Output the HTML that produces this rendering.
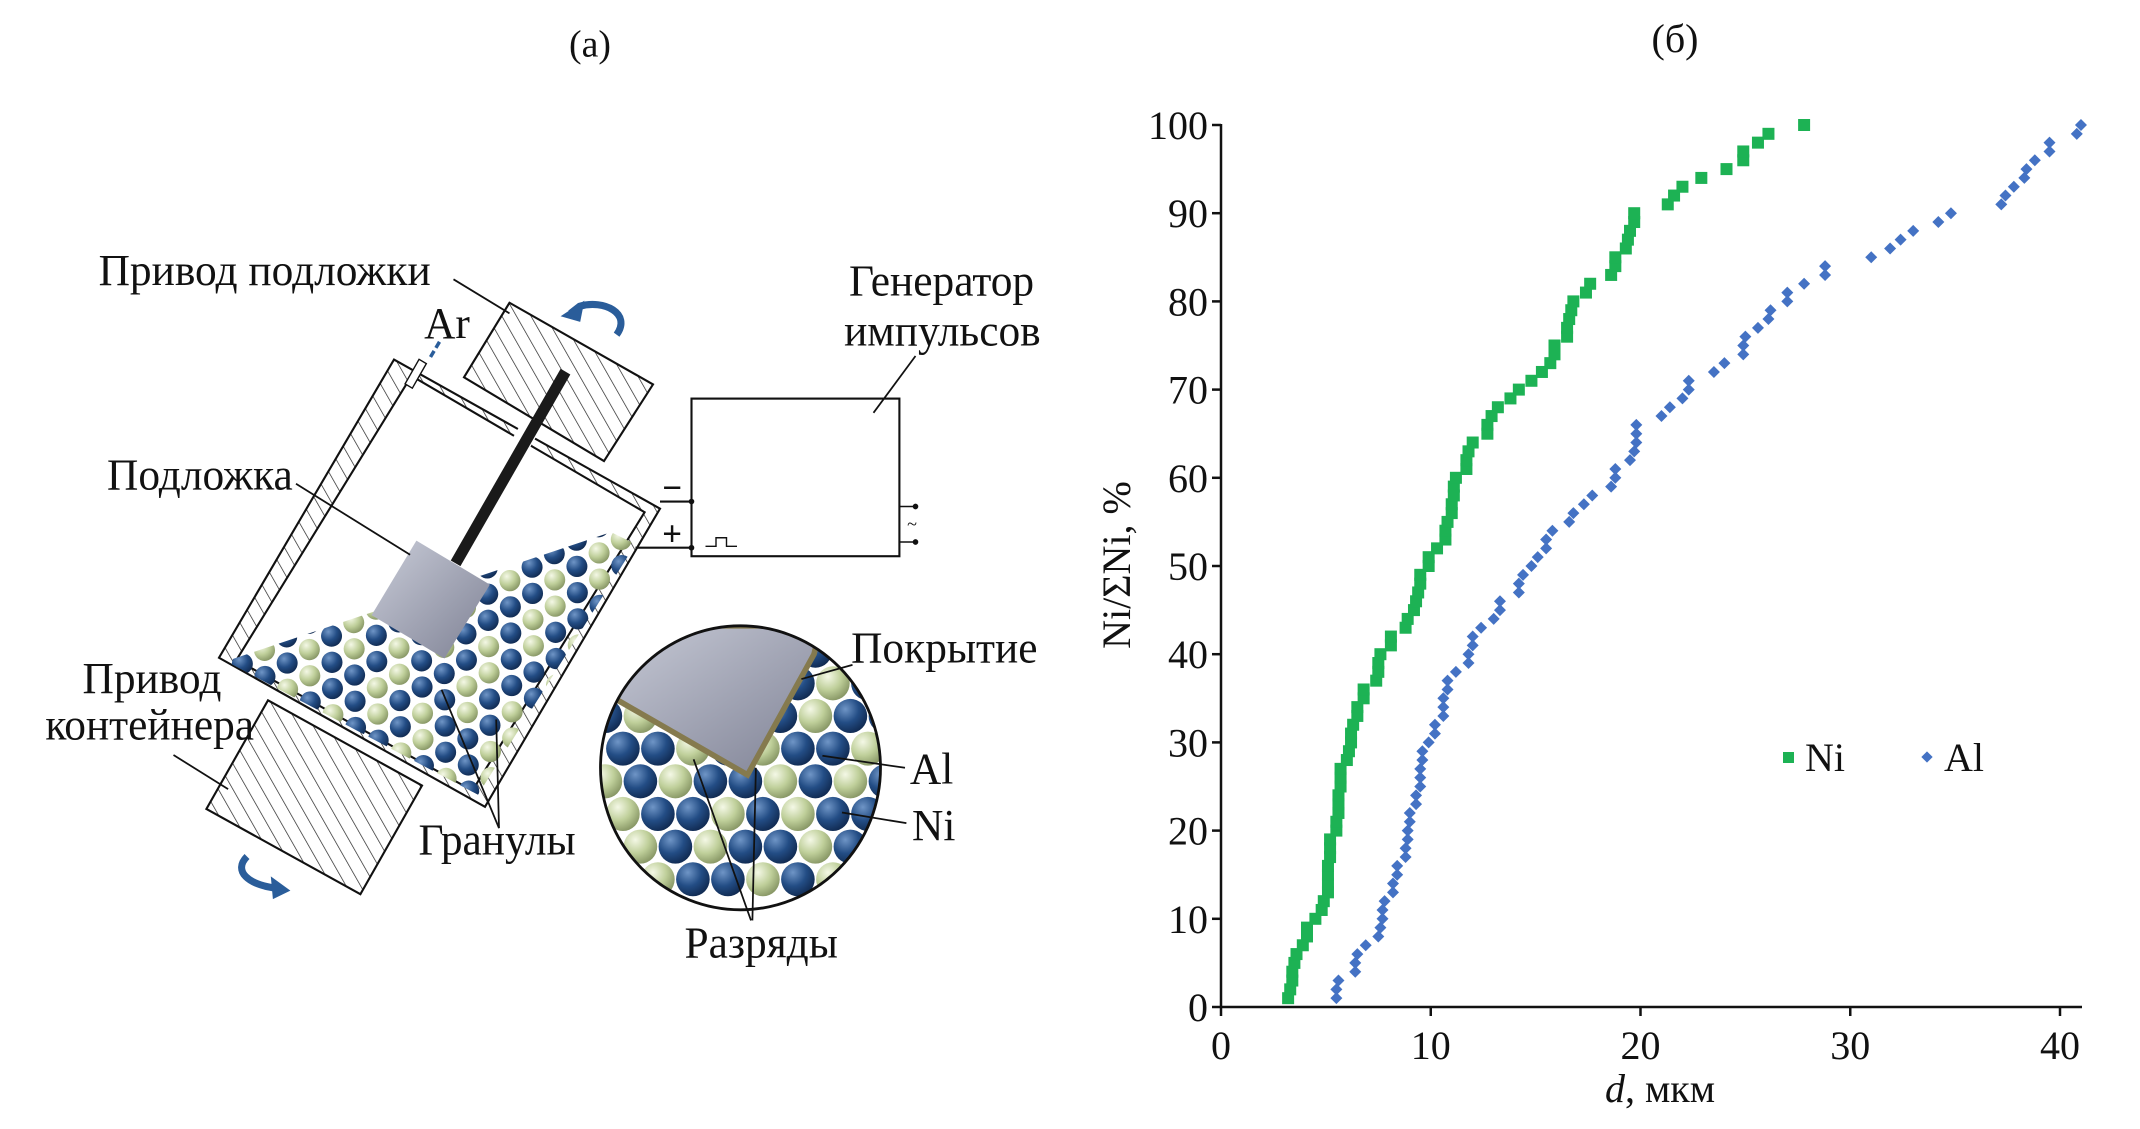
<!DOCTYPE html>
<html><head><meta charset="utf-8">
<style>
html,body{margin:0;padding:0;background:#fff;}
svg{display:block;}
text{font-family:"Liberation Serif",serif;fill:#111;}
</style></head>
<body>
<svg id="fig" width="2140" height="1129" viewBox="0 0 2140 1129" xmlns="http://www.w3.org/2000/svg">
<defs>
  <pattern id="hatch" patternUnits="userSpaceOnUse" width="18" height="18" patternTransform="rotate(-30)">
    <rect width="18" height="18" fill="#fff"/>
    <line x1="0" y1="0" x2="0" y2="18" stroke="#222" stroke-width="2"/>
  </pattern>
  <radialGradient id="gNi" cx="0.35" cy="0.3" r="0.8">
    <stop offset="0" stop-color="#6f95c6"/><stop offset="0.5" stop-color="#234d85"/><stop offset="1" stop-color="#0d2448"/>
  </radialGradient>
  <radialGradient id="gAl" cx="0.35" cy="0.3" r="0.8">
    <stop offset="0" stop-color="#f4f8e6"/><stop offset="0.5" stop-color="#bfcf9a"/><stop offset="1" stop-color="#7d8c5b"/>
  </radialGradient>
  <linearGradient id="gSub" x1="0" y1="0" x2="1" y2="1">
    <stop offset="0" stop-color="#c9ccd8"/><stop offset="1" stop-color="#7e8194"/>
  </linearGradient>
  <clipPath id="bedClip"><polygon points="335,925 870,748 905,765 680,1118 320,930"/></clipPath>
  <clipPath id="circClip"><circle cx="1055" cy="1080" r="200"/></clipPath>
</defs>

<!-- Panel (a) -->
<g transform="translate(2,1) scale(0.70,0.71)">
  <text x="840" y="78" font-size="54" text-anchor="middle">(а)</text>
  <polygon points="725,425 930,540 860,648 660,530" fill="url(#hatch)" stroke="#111" stroke-width="3"/>
  <polygon points="380,985 600,1105 512,1258 292,1138" fill="url(#hatch)" stroke="#111" stroke-width="3"/>
  <polygon points="560,505 940,715 690,1135 310,925" fill="url(#hatch)" stroke="#111" stroke-width="3"/>
  <polygon points="585,528 918,720 672,1112 335,928" fill="#fff" stroke="#111" stroke-width="3"/>
  <rect x="735" y="590" width="28" height="40" fill="#fff" transform="rotate(30 749 610)"/>
  <rect x="585" y="505" width="12" height="40" fill="#fff" stroke="#111" stroke-width="2" transform="rotate(30 591 525)"/>
  <line x1="625" y1="480" x2="610" y2="505" stroke="#2a5d9a" stroke-width="5" stroke-dasharray="10,5"/>
  <g clip-path="url(#bedClip)" id="bed"></g>
  <line x1="805" y1="522" x2="648" y2="792" stroke="#1a1a1a" stroke-width="16"/>
  <polygon points="592,760 697,822 632,926 528,865" fill="url(#gSub)"/>
  <rect x="985" y="560" width="297" height="222" fill="#fff" stroke="#111" stroke-width="3"/>
  <polyline points="1005,768 1020,768 1020,756 1035,756 1035,768 1050,768" fill="none" stroke="#111" stroke-width="2"/>
  <line x1="940" y1="705" x2="985" y2="705" stroke="#111" stroke-width="3"/>
  <line x1="905" y1="770" x2="985" y2="770" stroke="#111" stroke-width="3"/>
  <circle cx="985" cy="705" r="4" fill="#111"/><circle cx="985" cy="770" r="4" fill="#111"/>
  <text x="943" y="702" font-size="50" font-family="Liberation Sans" font-weight="bold">−</text>
  <text x="943" y="767" font-size="50" font-family="Liberation Sans" font-weight="bold">+</text>
  <line x1="1282" y1="712" x2="1305" y2="712" stroke="#111" stroke-width="2"/>
  <line x1="1282" y1="762" x2="1305" y2="762" stroke="#111" stroke-width="2"/>
  <circle cx="1305" cy="712" r="4" fill="#111"/><circle cx="1305" cy="762" r="4" fill="#111"/>
  <text x="1293" y="745" font-size="26">~</text>
  <path d="M878,470 C900,440 860,420 825,430 L812,440" fill="none" stroke="#2a5d9a" stroke-width="10"/>
  <path d="M798,444 L832,422 L826,452 Z" fill="#2a5d9a"/>
  <path d="M350,1205 C330,1225 350,1245 395,1250" fill="none" stroke="#2a5d9a" stroke-width="10"/>
  <path d="M412,1253 L384,1233 L387,1265 Z" fill="#2a5d9a"/>
  <g clip-path="url(#circClip)">
    <rect x="855" y="880" width="400" height="400" fill="#fff"/>
    <g id="mag"></g>
    <polygon points="850,880 1170,880 1160,920 1065,1090 880,985 850,985" fill="url(#gSub)" stroke="#857a4e" stroke-width="8"/>
  </g>
  <circle cx="1055" cy="1080" r="200" fill="none" stroke="#111" stroke-width="4"/>
  <g stroke="#111" stroke-width="2.5" fill="none">
    <line x1="645" y1="392" x2="725" y2="440"/>
    <line x1="420" y1="680" x2="583" y2="780"/>
    <line x1="1305" y1="500" x2="1245" y2="580"/>
    <line x1="245" y1="1062" x2="323" y2="1110"/>
    <line x1="710" y1="1165" x2="628" y2="970"/>
    <line x1="710" y1="1165" x2="706" y2="1012"/>
    <line x1="1215" y1="935" x2="1142" y2="955"/>
    <line x1="1290" y1="1080" x2="1172" y2="1063"/>
    <line x1="1292" y1="1158" x2="1200" y2="1143"/>
    <line x1="1070" y1="1295" x2="988" y2="1068"/>
    <line x1="1072" y1="1295" x2="1077" y2="1080"/>
  </g>
  <g font-size="62">
    <text x="138" y="400">Привод подложки</text>
    <text x="603" y="475">Ar</text>
    <text x="1210" y="415">Генератор</text>
    <text x="1203" y="485">импульсов</text>
    <text x="150" y="688">Подложка</text>
    <text x="115" y="975">Привод</text>
    <text x="62" y="1040">контейнера</text>
    <text x="595" y="1202">Гранулы</text>
    <text x="1213" y="932">Покрытие</text>
    <text x="1297" y="1102">Al</text>
    <text x="1300" y="1182">Ni</text>
    <text x="975" y="1347">Разряды</text>
  </g>
</g>

<!-- Panel (b) chart -->
<g id="chart">
  <text x="1675" y="52" font-size="40" text-anchor="middle">(б)</text>
  <line x1="1221" y1="124" x2="1221" y2="1008" stroke="#111" stroke-width="2.5"/>
  <line x1="1220" y1="1007" x2="2082" y2="1007" stroke="#111" stroke-width="2.5"/>
  <g id="yticks"></g><g id="xticks"></g>
  <text x="1660" y="1102" font-size="40" text-anchor="middle"><tspan font-style="italic">d</tspan>, мкм</text>
  <text transform="translate(1130,565) rotate(-90)" font-size="40" text-anchor="middle">Ni/ΣNi, %</text>
  <g id="niPts"></g>
  <g id="alPts"></g>
  <rect x="1783" y="752" width="11" height="11" fill="#1db254"/>
  <text x="1805" y="771" font-size="40">Ni</text>
  <rect x="1923" y="753" width="8" height="8" fill="#4472c4" transform="rotate(45 1927 757)"/>
  <text x="1944" y="771" font-size="40">Al</text>
</g>

<script>
const xTicks = [0, 10, 20, 30, 40];
const yTicks = [0, 10, 20, 30, 40, 50, 60, 70, 80, 90, 100];
const niD = [3.2,3.3,3.4,3.4,3.5,3.6,3.9,4.1,4.1,4.5,4.8,4.9,5.1,5.1,5.1,5.1,5.2,5.2,5.2,5.5,5.5,5.6,5.6,5.6,5.7,5.7,5.7,6.0,6.1,6.2,6.2,6.3,6.5,6.5,6.8,6.8,7.4,7.5,7.5,7.6,8.1,8.1,8.8,8.9,9.2,9.3,9.4,9.5,9.5,9.9,9.9,10.3,10.7,10.7,10.8,11.0,11.0,11.1,11.1,11.2,11.7,11.7,11.8,12.0,12.7,12.7,12.9,13.2,13.8,14.2,14.8,15.3,15.7,15.9,15.9,16.5,16.5,16.6,16.7,16.8,17.4,17.6,18.6,18.8,18.8,19.3,19.4,19.5,19.7,19.7,21.3,21.6,22.0,22.9,24.1,24.9,24.9,25.6,26.1,27.8];
const niP = [1,2,3,4,5,6,7,8,9,10,11,12,13,14,15,16,17,18,19,20,21,22,23,24,25,26,27,28,29,30,31,32,33,34,35,36,37,38,39,40,41,42,43,44,45,46,47,48,49,50,51,52,53,54,55,56,57,58,59,60,61,62,63,64,65,66,67,68,69,70,71,72,73,74,75,76,77,78,79,80,81,82,83,84,85,86,87,88,89,90,91,92,93,94,95,96,97,98,99,100];
const alD = [5.5,5.5,5.6,6.4,6.4,6.5,6.9,7.5,7.6,7.7,7.7,7.8,8.2,8.2,8.4,8.4,8.8,8.8,8.9,8.9,9.0,9.0,9.3,9.3,9.5,9.5,9.5,9.6,9.6,9.9,10.2,10.2,10.6,10.6,10.6,10.8,10.8,11.2,11.8,11.8,12.0,12.0,12.4,13.0,13.3,13.3,14.2,14.2,14.4,14.8,15.1,15.5,15.5,15.8,16.6,16.8,17.3,17.7,18.6,18.8,18.8,19.5,19.7,19.8,19.8,19.8,21.0,21.4,22.0,22.3,22.3,23.5,24.0,24.9,24.9,25.0,25.6,26.1,26.2,27.0,27.0,27.8,28.8,28.8,31.0,31.9,32.4,33.0,34.2,34.8,37.2,37.4,37.8,38.3,38.4,38.8,39.5,39.5,40.8,41.0];
const alP = niP.slice();

const X0 = 1221, XS = (2060 - 1221) / 40;
const Y0 = 1007, YS = (1007 - 125) / 100;
const sx = v => X0 + v * XS;
const sy = v => Y0 - v * YS;
const NS = "http://www.w3.org/2000/svg";
function mk(tag, attrs, parent) {
  const e = document.createElementNS(NS, tag);
  for (const k in attrs) e.setAttribute(k, attrs[k]);
  parent.appendChild(e);
  return e;
}
const yt = document.getElementById('yticks');
yTicks.forEach(v => {
  const l = mk('line', {x1: X0 - 9, x2: X0, y1: sy(v), y2: sy(v), stroke: '#111', 'stroke-width': 2.5}, yt);
  
  
  const t = mk('text', {x: X0 - 13, y: sy(v) + 14, 'font-size': 40, 'text-anchor': 'end'}, yt);
  t.textContent = v;
  
  
});
const xt = document.getElementById('xticks');
xTicks.forEach(v => {
  const l = mk('line', {x1: sx(v), x2: sx(v), y1: Y0, y2: Y0 + 9, stroke: '#111', 'stroke-width': 2.5}, xt);
  
  
  const t = mk('text', {x: sx(v), y: Y0 + 52, 'font-size': 40, 'text-anchor': 'middle'}, xt);
  t.textContent = v;
  
  
});
const ng = document.getElementById('niPts');
niD.forEach((d, i) => {
  const r = mk('rect', {x: sx(d) - 6, y: sy(niP[i]) - 6, width: 12, height: 12, fill: '#1db254'}, ng);
  
  
});
const ag = document.getElementById('alPts');
alD.forEach((d, i) => {
  const cx = sx(d), cy = sy(alP[i]);
  const p = mk('polygon', {points: `${cx},${cy-6} ${cx+6},${cy} ${cx},${cy+6} ${cx-6},${cy}`, fill: '#4472c4'}, ag);
  
  
});

// decorative granules (hex packing along container axes)
const bed = document.getElementById('bed');
const ax = [0.874, 0.485], ay = [-0.485, 0.874];
for (let i = -5; i < 22; i++) {
  for (let j = -5; j < 25; j++) {
    const u = i * 37 + (j % 2) * 18.5, w = j * 32;
    const x = 560 + u * ax[0] + w * ay[0];
    const y = 505 + u * ax[1] + w * ay[1];
    const blue = ((i * 7 + j * 3) % 5) < 3;
    mk('circle', {cx: x, cy: y, r: 15, fill: blue ? 'url(#gNi)' : 'url(#gAl)'}, bed);
  }
}
const mag = document.getElementById('mag');
for (let r = 0; r < 8; r++) {
  for (let c = 0; c < 9; c++) {
    const x = 862 + c * 50 + (r % 2) * 25;
    const y = 915 + r * 46;
    mk('circle', {cx: x, cy: y, r: 24, fill: ((r * 4 + c * 2) % 5 < 2) ? 'url(#gAl)' : 'url(#gNi)'}, mag);
  }
}
</script>
</svg>
</body></html>
